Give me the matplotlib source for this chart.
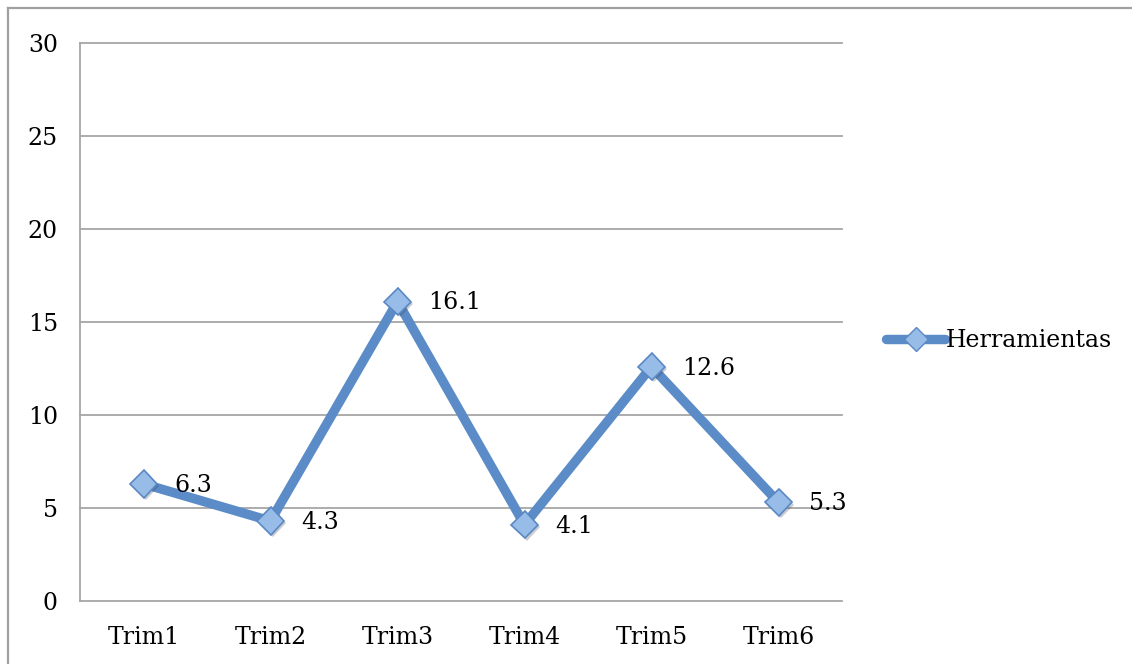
import matplotlib
matplotlib.use("Agg")
import matplotlib.pyplot as plt
from matplotlib.lines import Line2D
import matplotlib.patheffects as pe

categories = ["Trim1", "Trim2", "Trim3", "Trim4", "Trim5", "Trim6"]
herramientas = [6.3, 4.3, 16.1, 4.1, 12.6, 5.3]
y_ticks = [0, 5, 10, 15, 20, 25, 30]
series_name = "Herramientas"

W, H, DPI = 1132, 664, 100
plt.rcParams["font.family"] = ["DejaVu Serif"]
FS = 17

fig = plt.figure(figsize=(W / DPI, H / DPI), dpi=DPI)
ax = fig.add_axes([80 / W, 1 - 601 / H, 762 / W, 558 / H])

line_col = "#5B8CC8"
face_col = "#98BCE8"
edge_col = "#5A88C2"
grid_col = "#A6A6A6"

x = list(range(len(categories)))
ax.plot(x, herramientas, color=line_col, lw=6.8, solid_capstyle="round",
        solid_joinstyle="round", zorder=3)
ax.plot(x, herramientas, ls="none", marker="D", markersize=14,
        markerfacecolor=face_col, markeredgecolor=edge_col, markeredgewidth=1.2,
        zorder=4,
        path_effects=[pe.SimplePatchShadow(offset=(1.5, -1.5), alpha=0.25),
                      pe.Normal()])

for xi, v in zip(x, herramientas):
    ax.annotate(f"{v}", (xi, v), xytext=(22, -1), textcoords="offset points",
                ha="left", va="center", fontsize=FS, color="black", zorder=5)

ax.set_xlim(-0.5, len(categories) - 0.5)
ax.set_ylim(0, 30)
ax.set_yticks(y_ticks)
ax.set_yticklabels([str(t) for t in y_ticks])
ax.set_xticks(x)
ax.set_xticklabels(categories)
ax.tick_params(axis="y", length=0, pad=16, labelsize=FS)
ax.tick_params(axis="x", length=0, pad=18, labelsize=FS)

ax.yaxis.grid(True, color=grid_col, lw=1.3)
for gl in ax.get_ygridlines():
    gl.set_clip_on(False)
ax.set_axisbelow(True)
for side in ("top", "right", "bottom"):
    ax.spines[side].set_visible(False)
ax.spines["left"].set_color(grid_col)
ax.spines["left"].set_linewidth(1.3)

handle = Line2D([], [], color=line_col, lw=6.8, solid_capstyle="round",
                marker="D", markersize=12, markerfacecolor=face_col,
                markeredgecolor=edge_col, markeredgewidth=1.0)
fig.legend([handle], [series_name], loc="center left",
           bbox_to_anchor=(886 / W, 1 - 341 / H), frameon=False,
           fontsize=FS, handlelength=2.5, handletextpad=0.05,
           borderpad=0, borderaxespad=0)

# outer frame of the chart area
fig.add_artist(Line2D([8 / W, 1], [1 - 8 / H, 1 - 8 / H], color="#A0A0A0",
                      lw=1.6, transform=fig.transFigure))
fig.add_artist(Line2D([8 / W, 8 / W], [0, 1 - 8 / H], color="#A0A0A0",
                      lw=1.6, transform=fig.transFigure))

fig.savefig("out.png", dpi=DPI)
